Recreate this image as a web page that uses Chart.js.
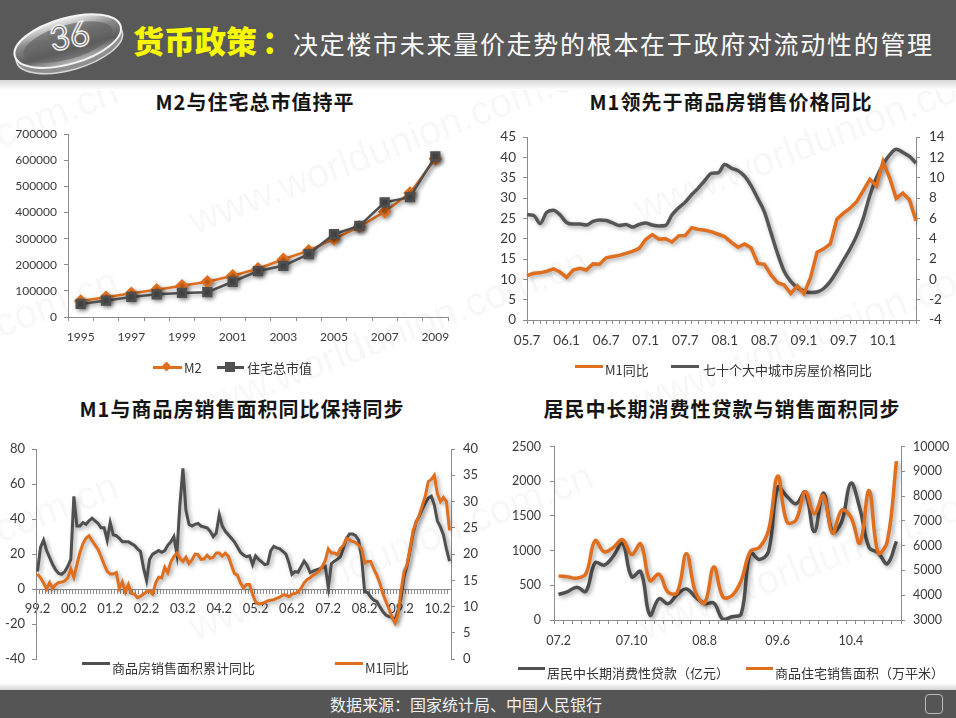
<!DOCTYPE html>
<html><head><meta charset="utf-8">
<script src="https://cdn.jsdelivr.net/npm/chart.js@4.4.0/dist/chart.umd.min.js"></script>
<style>
html,body{margin:0;padding:0;}
body{width:956px;height:718px;position:relative;overflow:hidden;background:#fff;font-family:"Noto Sans CJK SC",sans-serif;}
.abs{position:absolute;}
.title{position:absolute;font-weight:bold;font-size:20px;color:#151515;white-space:nowrap;transform:translateX(-50%);letter-spacing:1px;line-height:24px;}
.lg{position:absolute;font-size:13px;color:#333;white-space:nowrap;line-height:16px;z-index:5;}
.ln{position:absolute;height:3px;z-index:5;}
canvas{position:absolute;}
.wm{position:absolute;font-family:"Liberation Sans",Arial,sans-serif;font-size:40px;color:rgba(0,0,0,0.045);white-space:nowrap;transform-origin:0 0;transform:rotate(-21deg);line-height:46px;}
</style></head>
<body>
<!-- watermark -->
<div class="wm" style="left:-293px;top:221px">www.worldunion.com.cn</div>
<div class="wm" style="left:182px;top:200px">www.worldunion.com.cn</div>
<div class="wm" style="left:627px;top:188px">www.worldunion.com.cn</div>
<div class="wm" style="left:-293px;top:411px">www.worldunion.com.cn</div>
<div class="wm" style="left:177px;top:391px">www.worldunion.com.cn</div>
<div class="wm" style="left:627px;top:381px">www.worldunion.com.cn</div>
<div class="wm" style="left:-293px;top:616px">www.worldunion.com.cn</div>
<div class="wm" style="left:182px;top:606px">www.worldunion.com.cn</div>
<div class="wm" style="left:632px;top:606px">www.worldunion.com.cn</div>

<!-- header -->
<div class="abs" style="left:0;top:0;width:956px;height:80px;background:#595959"></div>
<div class="abs" style="left:0;top:80px;width:956px;height:10px;background:linear-gradient(#d6d6d6,#fff)"></div>
<svg class="abs" style="left:6px;top:4px" width="128" height="74">
 <defs>
  <linearGradient id="gl" x1="0" y1="0" x2="0" y2="1">
   <stop offset="0" stop-color="#f2f2f2"/><stop offset="0.35" stop-color="#8a8a8a"/><stop offset="0.7" stop-color="#5c5c5c"/><stop offset="1" stop-color="#bdbdbd"/>
  </linearGradient>
 </defs>
 <g transform="rotate(-16 62 38)">
  <ellipse cx="62" cy="43" rx="55" ry="23" fill="#8f8f8f" stroke="#d8d8d8" stroke-width="1.5"/>
  <ellipse cx="62" cy="37" rx="55" ry="23" fill="url(#gl)" stroke="#f4f4f4" stroke-width="2"/>
  <ellipse cx="62" cy="38" rx="46" ry="17" fill="#5d5d5d" opacity="0.6"/>
 </g>
 <text x="64" y="44" font-size="34" font-family="Lato, sans-serif" fill="#6a6a6a" stroke="#f0f0f0" stroke-width="1.5" text-anchor="middle" transform="rotate(-10 64 34)">36</text>
</svg>
<div class="abs" style="left:133px;top:20px;font-size:31px;font-weight:900;color:#f7f700;line-height:40px;white-space:nowrap;">货币政策<span style="display:inline-block;margin-left:5px">：</span></div>
<div class="abs" style="left:293px;top:25px;font-size:25px;color:#fafafa;line-height:36px;letter-spacing:1.7px;white-space:nowrap;">决定楼市未来量价走势的根本在于政府对流动性的管理</div>

<!-- titles -->
<div class="title" style="left:255px;top:90px">M2与住宅总市值持平</div>
<div class="title" style="left:731px;top:90px">M1领先于商品房销售价格同比</div>
<div class="title" style="left:242px;top:397px">M1与商品房销售面积同比保持同步</div>
<div class="title" style="left:722px;top:397px">居民中长期消费性贷款与销售面积同步</div>

<canvas id="c1" width="478" height="245" style="left:0;top:120px"></canvas>
<canvas id="c2" width="478" height="245" style="left:478px;top:120px"></canvas>
<canvas id="c3" width="478" height="245" style="left:0;top:430px"></canvas>
<canvas id="c4" width="478" height="235" style="left:478px;top:430px"></canvas>

<!-- footer -->
<div class="abs" style="left:0;top:683px;width:956px;height:7px;background:linear-gradient(#fff,#d4d4d4)"></div>
<div class="abs" style="left:0;top:690px;width:956px;height:28px;background:#555"></div>
<div class="abs" style="left:330px;top:692px;font-size:16px;color:#f2f2f2;line-height:24px;white-space:nowrap;">数据来源：国家统计局、中国人民银行</div>
<div class="abs" style="left:925px;top:694px;width:16px;height:18px;border:1px solid #bbb;border-radius:4px;"></div>

<!-- legends -->
<div class="ln" style="left:153px;top:366px;width:29px;background:#DF6F1E"></div>
<div class="abs" style="left:163px;top:363px;width:7px;height:7px;background:#DF6F1E;transform:rotate(45deg);z-index:5"></div>
<div class="lg" style="left:184px;top:360px">M2</div>
<div class="ln" style="left:217px;top:366px;width:27px;background:#505050"></div>
<div class="abs" style="left:225px;top:362px;width:10px;height:10px;background:#505050;z-index:5"></div>
<div class="lg" style="left:247px;top:360px">住宅总市值</div>

<div class="ln" style="left:575px;top:365px;width:28px;background:#DF6F1E"></div>
<div class="lg" style="left:605px;top:362px">M1同比</div>
<div class="ln" style="left:671px;top:365px;width:28px;background:#555"></div>
<div class="lg" style="left:703px;top:362px">七十个大中城市房屋价格同比</div>

<div class="ln" style="left:82px;top:662px;width:28px;background:#505050"></div>
<div class="lg" style="left:112px;top:660px">商品房销售面积累计同比</div>
<div class="ln" style="left:335px;top:662px;width:28px;background:#DF6F1E"></div>
<div class="lg" style="left:365px;top:660px">M1同比</div>

<div class="ln" style="left:518px;top:667px;width:27px;background:#505050"></div>
<div class="lg" style="left:547px;top:665px">居民中长期消费性贷款（亿元）</div>
<div class="ln" style="left:746px;top:667px;width:27px;background:#DF6F1E"></div>
<div class="lg" style="left:775px;top:665px">商品住宅销售面积（万平米）</div>

<script>
// ---------- Chart 1 data ----------
const years1 = ['1995','1996','1997','1998','1999','2000','2001','2002','2003','2004','2005','2006','2007','2008','2009'];
const xTicks1 = ['1995','1997','1999','2001','2003','2005','2007','2009'];
const m2Series = [61000, 76000, 91000, 104000, 120000, 135000, 158000, 185000, 221000, 254000, 299000, 346000, 403000, 475000, 606000];
const houseValue = [50000, 63000, 77000, 87000, 92000, 95000, 135000, 176000, 196000, 241000, 317000, 349000, 439000, 459000, 615000];

// ---------- Chart 2 data ----------
const months2 = ['05.7','05.8','05.9','05.10','05.11','05.12',
 '06.1','06.2','06.3','06.4','06.5','06.6','06.7','06.8','06.9','06.10','06.11','06.12',
 '07.1','07.2','07.3','07.4','07.5','07.6','07.7','07.8','07.9','07.10','07.11','07.12',
 '08.1','08.2','08.3','08.4','08.5','08.6','08.7','08.8','08.9','08.10','08.11','08.12',
 '09.1','09.2','09.3','09.4','09.5','09.6','09.7','09.8','09.9','09.10','09.11','09.12',
 '10.1','10.2','10.3','10.4','10.5','10.6'];
const xTicks2 = ['05.7','06.1','06.7','07.1','07.7','08.1','08.7','09.1','09.7','10.1'];
const m1Yoy2 = [10.9, 11.5, 11.6, 12.0, 12.6, 11.8,
 10.5, 12.3, 12.7, 12.3, 13.8, 13.7, 15.3, 15.6, 15.9, 16.4, 16.9, 17.6,
 19.8, 21.0, 19.9, 20.0, 19.2, 20.7, 20.8, 22.7, 22.3, 22.1, 21.7, 21.1,
 20.5, 19.1, 17.9, 18.7, 17.7, 13.9, 13.7, 11.1, 9.2, 8.6, 6.5, 8.4,
 6.5, 10.4, 16.7, 17.5, 18.7, 24.8, 26.3, 27.5, 29.1, 31.8, 34.6, 33.0,
 39.0, 35.0, 29.9, 31.2, 29.6, 24.4];
const price70Yoy = [6.35, 6.3, 5.5, 6.6, 6.8, 6.35,
 5.6, 5.45, 5.45, 5.35, 5.7, 5.85, 5.8, 5.55, 5.3, 5.4, 5.15, 5.4,
 5.55, 5.35, 5.25, 5.3, 6.35, 7.05, 7.6, 8.35, 9.0, 9.75, 10.45, 10.5,
 11.3, 10.95, 10.7, 10.15, 9.2, 7.95, 6.65, 4.6, 2.55, 0.8, -0.2, -0.8,
 -1.15, -1.3, -1.25, -0.9, -0.2, 0.8, 1.9, 3.0, 4.3, 6.0, 8.25, 10.0,
 11.3, 12.25, 12.8, 12.5, 12.1, 11.45];

// ---------- Chart 3 data ----------
const months3 = ['99.2','99.3','99.4','99.5','99.6','99.7','99.8','99.9','99.10','99.11','99.12',
 '00.1','00.2','00.3','00.4','00.5','00.6','00.7','00.8','00.9','00.10','00.11','00.12',
 '01.1','01.2','01.3','01.4','01.5','01.6','01.7','01.8','01.9','01.10','01.11','01.12',
 '02.1','02.2','02.3','02.4','02.5','02.6','02.7','02.8','02.9','02.10','02.11','02.12',
 '03.1','03.2','03.3','03.4','03.5','03.6','03.7','03.8','03.9','03.10','03.11','03.12',
 '04.1','04.2','04.3','04.4','04.5','04.6','04.7','04.8','04.9','04.10','04.11','04.12',
 '05.1','05.2','05.3','05.4','05.5','05.6','05.7','05.8','05.9','05.10','05.11','05.12',
 '06.1','06.2','06.3','06.4','06.5','06.6','06.7','06.8','06.9','06.10','06.11','06.12',
 '07.1','07.2','07.3','07.4','07.5','07.6','07.7','07.8','07.9','07.10','07.11','07.12',
 '08.1','08.2','08.3','08.4','08.5','08.6','08.7','08.8','08.9','08.10','08.11','08.12',
 '09.1','09.2','09.3','09.4','09.5','09.6','09.7','09.8','09.9','09.10','09.11','09.12',
 '10.1','10.2','10.3','10.4','10.5','10.6'];
const xTicks3 = ['99.2','00.2','01.2','02.2','03.2','04.2','05.2','06.2','07.2','08.2','09.2','10.2'];
const salesAreaYoy = [10, 24, 28, 22, 18, 14, 11, 9, 8.5, 10, 13,
 17, 53, 36, 36, 38, 37, 39, 40.5, 39, 37.5, 35, 35,
 28, 38, 31, 30.5, 29, 27, 27, 27, 26, 25, 23, 21.5,
 12, 5, 17, 20, 21, 22, 21, 22, 25, 27, 30, 20,
 48, 69, 45, 37, 36, 37, 37.5, 36, 35.5, 35, 33, 30,
 32, 42.5, 36, 33, 31, 29, 27, 24, 21, 19.5, 18.5, 19,
 14, 19, 17, 15.5, 14, 14.5, 22, 24.4, 23.6, 23, 21.5, 20,
 15, 8.5, 10, 9.6, 12.8, 16, 13.5, 9.5, 10.3, 11, 11.6, 12.3,
 13, 1, 14.5, 16, 17, 18.5, 23.4, 29, 31.5, 31.5, 30.5, 28,
 18, -1.5, -2, -4.5, -6.3, -7, -10, -12.8, -14.8, -15.7, -16, -18.2,
 -12, -5, 7, 13.5, 22.5, 32, 38.5, 41.5, 45.5, 49, 52, 53,
 48, 39, 35.5, 31, 23, 16];
const m1Yoy3 = [16.2, 15.5, 14.5, 13.4, 14.6, 13.5, 14.2, 14.6, 14.7, 14.9, 15.5,
 17.2, 15.6, 18, 20.3, 22, 23, 23.5, 22.6, 21.7, 20.9, 19.5, 18,
 16.7, 16.2, 16.2, 16.5, 13.5, 14.7, 12.8, 14.2, 12.5, 12.4, 11.7, 12,
 12.4, 12.8, 13, 12.4, 14.5, 15.6, 15.5, 17.5, 16.5, 18.5, 19.5, 20.2,
 19.2, 18.6, 19.4, 18.2, 18.9, 20, 19.9, 19, 19.1, 19.8, 19.2, 19.4,
 20.2, 20.2, 19.6, 20.2, 19.6, 17.9, 16.3, 16, 14.5, 13.6, 14.2, 14.2,
 12.3, 10.9, 10.5, 10.6, 10.8, 11.1, 11.2, 11.3, 11.6, 11.8, 12.2, 12.2,
 11.9, 12.4, 12.5, 12.8, 13.5, 14.5, 15.2, 15.5, 16, 16.3, 16.8, 17.6,
 18.8, 21, 20.2, 20.2, 19.9, 21.1, 21.7, 23, 22.7, 22.4, 22.2, 21.7,
 21, 18.3, 18.6, 18.6, 17.2, 16, 14.5, 12.5, 11, 9.6, 8, 6.9,
 8.5, 13, 16.7, 18, 21.1, 24.5, 26, 27.4, 29.2, 31, 33.8, 34.2,
 35, 31.5, 30, 30.8, 30, 24.5];

// ---------- Chart 4 data ----------
const months4 = ['07.2','07.3','07.4','07.5','07.6','07.7','07.8','07.9','07.10','07.11','07.12',
 '08.3','08.4','08.5','08.6','08.7','08.8','08.9','08.10','08.11','08.12',
 '09.3','09.4','09.5','09.6','09.7','09.8','09.9','09.10','09.11','09.12',
 '10.3','10.4','10.5','10.6','10.7','10.8','10.9'];
const xTicks4 = ['07.2','07.10','08.8','09.6','10.4'];
const consumerLoans = [368, 410, 472, 415, 825, 792, 920, 1108, 623, 698, 71,
 307, 236, 368, 448, 330, 236, 245, 9, 47, 85,
 967, 873, 990, 1910, 1783, 1675, 1840, 1274, 1830, 1274,
 1415, 1972, 1604, 1047, 967, 811, 1132];
const residentialArea = [4780, 4740, 4690, 4880, 6200, 5750, 5930, 6240, 5640, 6070, 4590,
 4850, 4120, 4120, 5670, 4120, 3690, 5140, 3930, 3990, 4590,
 5770, 5930, 6630, 8810, 6960, 7030, 8180, 7290, 8020, 6500,
 7430, 7160, 6100, 8220, 5710, 6170, 9410];

// ---------- styling ----------
const ORANGE = '#DF6F1E';
const GRAY = '#4F4F4F';
const AX = '#8c8c8c';
const TXT = '#3a3a3a';
const NUMFONT = 'Lato, "DejaVu Sans", sans-serif';

const shadowPlugin = {
  id: 'lineShadow',
  beforeDatasetDraw(chart) {
    const c = chart.ctx; c.save();
    c.shadowColor = 'rgba(0,0,0,0.35)'; c.shadowBlur = 4; c.shadowOffsetX = 2; c.shadowOffsetY = 2;
  },
  afterDatasetDraw(chart) { chart.ctx.restore(); }
};

function yAxis(min, max, step, size, width, pos, pad) {
  return {
    type: 'linear', position: pos, min: min, max: max,
    ticks: { stepSize: step, padding: pad, color: TXT, font: { family: NUMFONT, size: size }, callback: v => String(v) },
    grid: { drawOnChartArea: false, drawTicks: true, tickLength: 4, color: AX },
    border: { color: AX, width: 1 },
    afterFit: s => { s.width = width; }
  };
}
function xAxis(show, size, offset, height, pad) {
  const a = {
    type: 'category', offset: offset,
    grid: { offset: offset, drawOnChartArea: false, drawTicks: true, tickLength: 4, color: AX },
    border: { color: AX, width: 1 },
    ticks: { autoSkip: false, maxRotation: 0, minRotation: 0, padding: pad, color: TXT, font: { family: NUMFONT, size: size },
      callback: function (v, i) { const l = this.getLabelForValue(v); return show.includes(l) ? l : ''; } }
  };
  if (height !== null) a.afterFit = s => { s.height = height; };
  return a;
}
const baseOpts = { responsive: false, animation: false, plugins: { legend: { display: false }, tooltip: { enabled: false } } };

// Chart 1
new Chart(document.getElementById('c1'), {
  type: 'line',
  data: { labels: years1, datasets: [
    { label: '住宅总市值', data: houseValue, borderColor: GRAY, backgroundColor: GRAY, pointBorderColor: GRAY, borderWidth: 2.5, pointStyle: 'rect', pointRadius: 5.5, tension: 0 },
    { label: 'M2', data: m2Series, borderColor: ORANGE, backgroundColor: ORANGE, pointBorderColor: ORANGE, borderWidth: 2.5, pointStyle: 'rectRot', pointRadius: 5, tension: 0 }
  ]},
  options: Object.assign({}, baseOpts, {
    layout: { padding: { top: 12, right: 30, left: 0, bottom: 0 } },
    scales: { x: xAxis(xTicks1, 12, true, 48, 9), y: yAxis(0, 700000, 100000, 12, 68, 'left', 7) }
  }),
  plugins: [shadowPlugin]
});

// Chart 2
new Chart(document.getElementById('c2'), {
  type: 'line',
  data: { labels: months2, datasets: [
    { label: 'M1同比', data: m1Yoy2, yAxisID: 'y', borderColor: ORANGE, borderWidth: 3.5, pointRadius: 0, tension: 0 },
    { label: '七十个大中城市房屋价格同比', data: price70Yoy, yAxisID: 'y1', borderColor: '#555555', borderWidth: 3.5, pointRadius: 0, tension: 0.4, cubicInterpolationMode: 'monotone' }
  ]},
  options: Object.assign({}, baseOpts, {
    layout: { padding: { top: 12, right: 0, left: 0, bottom: 0 } },
    scales: { x: xAxis(xTicks2, 13.5, false, 45, 9), y: yAxis(0, 45, 5, 13.5, 49, 'left', 7), y1: yAxis(-4, 14, 2, 13.5, 40, 'right', 9) }
  }),
  plugins: [shadowPlugin]
});

// Chart 3
const x3 = xAxis(xTicks3, 13, true, null, 8);
x3.position = { y: 0 };
new Chart(document.getElementById('c3'), {
  type: 'line',
  data: { labels: months3, datasets: [
    { label: 'M1同比', data: m1Yoy3, yAxisID: 'y1', borderColor: ORANGE, borderWidth: 3, pointRadius: 0, tension: 0 },
    { label: '商品房销售面积累计同比', data: salesAreaYoy, yAxisID: 'y', borderColor: GRAY, borderWidth: 3, pointRadius: 0, tension: 0 }
  ]},
  options: Object.assign({}, baseOpts, {
    layout: { padding: { top: 19, right: 0, left: 0, bottom: 12 } },
    scales: { x: x3, y: yAxis(-40, 80, 20, 13, 36, 'left', 7), y1: yAxis(0, 40, 5, 13, 27, 'right', 8) }
  }),
  plugins: [shadowPlugin]
});

// Chart 4
new Chart(document.getElementById('c4'), {
  type: 'line',
  data: { labels: months4, datasets: [
    { label: '商品住宅销售面积（万平米）', data: residentialArea, yAxisID: 'y1', borderColor: ORANGE, borderWidth: 3.5, pointRadius: 0, tension: 0.4 },
    { label: '居民中长期消费性贷款（亿元）', data: consumerLoans, yAxisID: 'y', borderColor: GRAY, borderWidth: 3.5, pointRadius: 0, tension: 0.4 }
  ]},
  options: Object.assign({}, baseOpts, {
    layout: { padding: { top: 13, right: 0, left: 0, bottom: 0 } },
    scales: { x: xAxis(xTicks4, 12.5, true, 45, 9), y: yAxis(0, 2500, 500, 12.5, 76, 'left', 9), y1: yAxis(3000, 10000, 1000, 12.5, 55, 'right', 8) }
  }),
  plugins: [shadowPlugin]
});
</script>
</body></html>
